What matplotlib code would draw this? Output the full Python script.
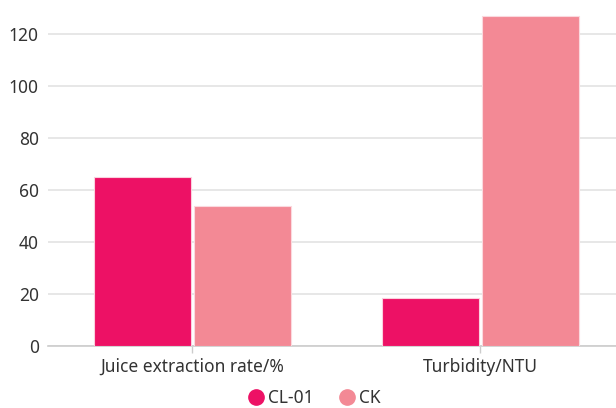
import numpy as np
import matplotlib
matplotlib.use("Agg")
import matplotlib.pyplot as plt
from matplotlib.lines import Line2D

categories = ["Juice extraction rate/%", "Turbidity/NTU"]
series_names = ["CL-01", "CK"]
cl01_values = [65, 18.5]
ck_values = [53.7, 126.8]
colors = ["#ED1165", "#F38995"]

plt.rcParams["font.family"] = ["Noto Sans", "DejaVu Sans"]

fig = plt.figure(figsize=(6.16, 4.08), dpi=100)
ax = fig.add_axes([0.0787, 0.1527, 1 - 0.0787, 0.828])

x = np.arange(len(categories))
w = 0.338
ax.bar(x - w / 2 - 0.005, cl01_values, w, color=colors[0],
       edgecolor="#FBD0DD", linewidth=0.8, zorder=3)
ax.bar(x + w / 2 + 0.005, ck_values, w, color=colors[1],
       edgecolor="#FBD9DE", linewidth=0.8, zorder=3)

ax.set_xlim(-0.5, (616 - 192.5) / 288)
ax.set_ylim(0, 130)
ax.set_yticks([0, 20, 40, 60, 80, 100, 120])
ax.set_xticks(x)
ax.set_xticklabels(categories)

ax.grid(axis="y", color="#E0E0E0", linewidth=1.1, zorder=0)
for s in ["top", "right", "left"]:
    ax.spines[s].set_visible(False)
ax.spines["bottom"].set_color("#CCCCCC")
ax.spines["bottom"].set_linewidth(1.2)

ax.tick_params(axis="y", length=0, pad=7, labelsize=12.5, labelcolor="#333333")
ax.tick_params(axis="x", length=5, width=1, color="#CCCCCC", pad=4,
               labelsize=12.5, labelcolor="#333333")

handles = [Line2D([], [], marker="o", linestyle="none", markersize=11,
                  markerfacecolor=c, markeredgecolor=c) for c in colors]
fig.legend(handles, series_names, loc="center",
           bbox_to_anchor=(313 / 616, 1 - 398 / 408), ncol=2, frameon=False,
           fontsize=12.5, labelcolor="#333333", handletextpad=0.1,
           columnspacing=1.3, handlelength=1.2)

fig.savefig("out.png", dpi=100)
